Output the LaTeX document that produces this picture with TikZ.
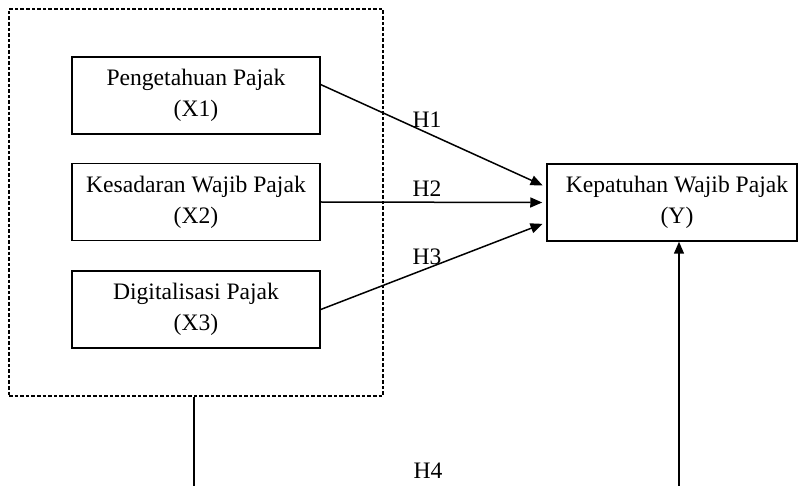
\documentclass[tikz,border=0pt]{standalone}
\usepackage{fontspec}
\setmainfont{Liberation Serif}
\usepackage{tikz}
\usetikzlibrary{positioning}
\usetikzlibrary{arrows.meta}

\begin{document}
\begin{tikzpicture}[x=0.5pt, y=-0.5pt, font=\fontsize{11.8}{15.5}\selectfont,
    varbox/.style={draw, line width=0.75pt, align=center, inner sep=0pt, minimum width=124pt, minimum height=38.5pt},
    arr/.style={-{Triangle[length=6pt, width=5pt]}, line width=0.75pt},
    hlabel/.style={inner sep=0pt}]
        % Fix the size of the picture
        \useasboundingbox (0,0) rectangle (798,486);

        % Draw the dashed frame round the independent variables
        \node[draw, dashed, dash pattern=on 1.8pt off 1pt, line width=0.6pt, minimum width=187pt, minimum height=193.5pt, inner sep=0pt] (frame) at (196,202.5) {};

        % Draw the independent variables
        \node[varbox] (x1) at (196,95.5) {Pengetahuan Pajak\\(X1)};
        \node[varbox] (x2) at (196,202) {Kesadaran Wajib Pajak\\(X2)};
        \node[varbox] (x3) at (196,309.5) {Digitalisasi Pajak\\(X3)};

        % Draw the dependent variable
        \node[varbox, minimum width=125pt] (y) at (672,202.5) {\hspace*{5pt}Kepatuhan Wajib Pajak\\\hspace*{5pt}(Y)};

        % Draw the hypotheses
        \draw[arr, shorten >=2pt] (x1.5) -- (y.173);
        \draw[arr, shorten >=2pt] (x2.east) -- (y.west);
        \draw[arr, shorten >=2pt] (x3.east) -- (y.189);

        \node[hlabel] (h1) at (427,120) {H1};
        \node[hlabel] (h2) at (427,189) {H2};
        \node[hlabel] (h3) at (427,257) {H3};
        \node[hlabel] (h4) at (428,471) {H4};

        % Draw the moderating path at the bottom
        \coordinate (b1) at (194,486);
        \coordinate (b2) at (679,486);
        \draw[line width=0.75pt] (b1 |- frame.south) -- (b1);
        \draw[arr] (b2) -- (b2 |- y.south);
      \end{tikzpicture}
\end{document}
